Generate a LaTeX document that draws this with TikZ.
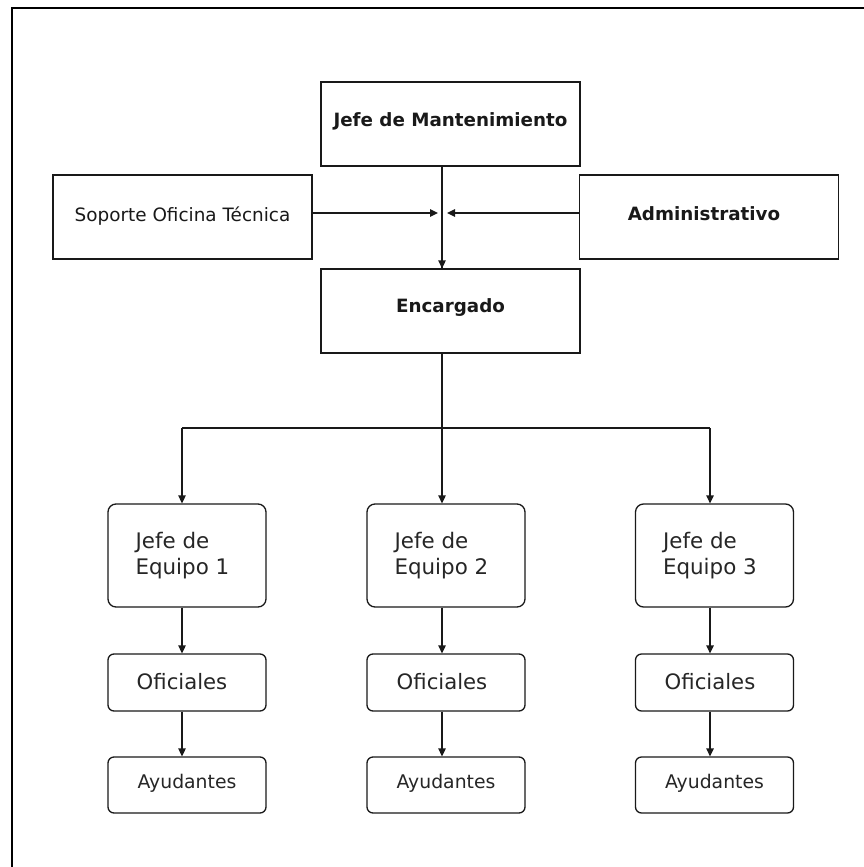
\documentclass[tikz,border=0pt]{standalone}
\usepackage{fontspec}
\setmainfont{DejaVu Sans}
\usetikzlibrary{arrows.meta,calc}

\tikzset{
  line/.style={draw=black!90, line width=1.3pt},
  arr/.style={line, -{Triangle[length=8pt,width=7.5pt]}},
  sqbox/.style={line, rectangle, minimum width=259pt, minimum height=84pt, inner sep=0pt},
  teambox/.style={line, rectangle, rounded corners=8pt, minimum width=158pt, minimum height=103pt, inner sep=0pt},
  smallbox/.style={line, rectangle, rounded corners=6pt, minimum width=158pt, minimum height=56pt, inner sep=0pt},
  boldtxt/.style={font=\fontsize{18.3}{22}\selectfont\bfseries, text=black!90},
  regtxt/.style={font=\fontsize{18.4}{22}\selectfont, text=black!90},
  teamtxt/.style={font=\fontsize{21.4}{26}\selectfont, text=black!85, align=left, inner sep=0pt, anchor=west},
  ofitxt/.style={font=\fontsize{21.2}{25}\selectfont, text=black!85},
  ayutxt/.style={font=\fontsize{18.8}{22}\selectfont, text=black!85},
}

\begin{document}
\begin{tikzpicture}[x=1pt, y=-1pt]
  \useasboundingbox (0,0) rectangle (864,867);
  \fill[white] (0,0) rectangle (864,867);

  % outer frame (only top and left edges are visible)
  \draw[line width=2pt, black] (12,867) -- (12,8) -- (864,8);

  % upper management
  \node[sqbox] (jm) at (450.5,124) {};
  \node[boldtxt] (jmt) at (450.5,121) {Jefe de Mantenimiento};
  \node[sqbox] (sop) at (182.5,217) {};
  \node[regtxt] (sopt) at (182.5,216) {Soporte Oficina Técnica};
  \node[sqbox] (adm) at (709,217) {};
  \node[boldtxt] (admt) at (704,214) {Administrativo};
  \node[sqbox] (enc) at (450.5,311) {};
  \node[boldtxt] (enct) at (450.5,308) {Encargado};

  % junction points on the central spine
  \coordinate (sp) at (442,166);
  \coordinate (jl) at (438,213);
  \coordinate (jr) at (447,213);

  \draw[line] (jm.south -| sp) -- (enc.north -| sp);
  \draw[arr] (jm.south -| sp) -- (enc.north -| sp);
  \draw[arr] (sop.east |- jl) -- (jl);
  \draw[arr] (adm.west |- jr) -- (jr);

  % team columns
  \foreach \i/\ax/\bx in {1/182/187, 2/442/446, 3/710/714.5} {
    \node[teambox] (je\i) at (\bx,555.5) {};
    \node[teamtxt] (je\i t) at ($(je\i.west)+(28,0)$) {Jefe de\\Equipo \i};
    \node[smallbox, minimum height=57pt] (of\i) at (\bx,682.5) {};
    \node[ofitxt] (of\i t) at (\ax,682) {Oficiales};
    \node[smallbox] (ay\i) at (\bx,785) {};
    \node[ayutxt] (ay\i t) at (\bx,783) {Ayudantes};
    \coordinate (bus\i) at (\ax,428);
    \draw[arr] (bus\i) -- (je\i.north -| bus\i);
    \draw[arr] (je\i.south -| bus\i) -- (of\i.north -| bus\i);
    \draw[arr] (of\i.south -| bus\i) -- (ay\i.north -| bus\i);
  }

  % distribution bus below Encargado
  \draw[line] (enc.south -| sp) -- (bus2);
  \draw[line] (bus1) -- (bus3);
\end{tikzpicture}
\end{document}
